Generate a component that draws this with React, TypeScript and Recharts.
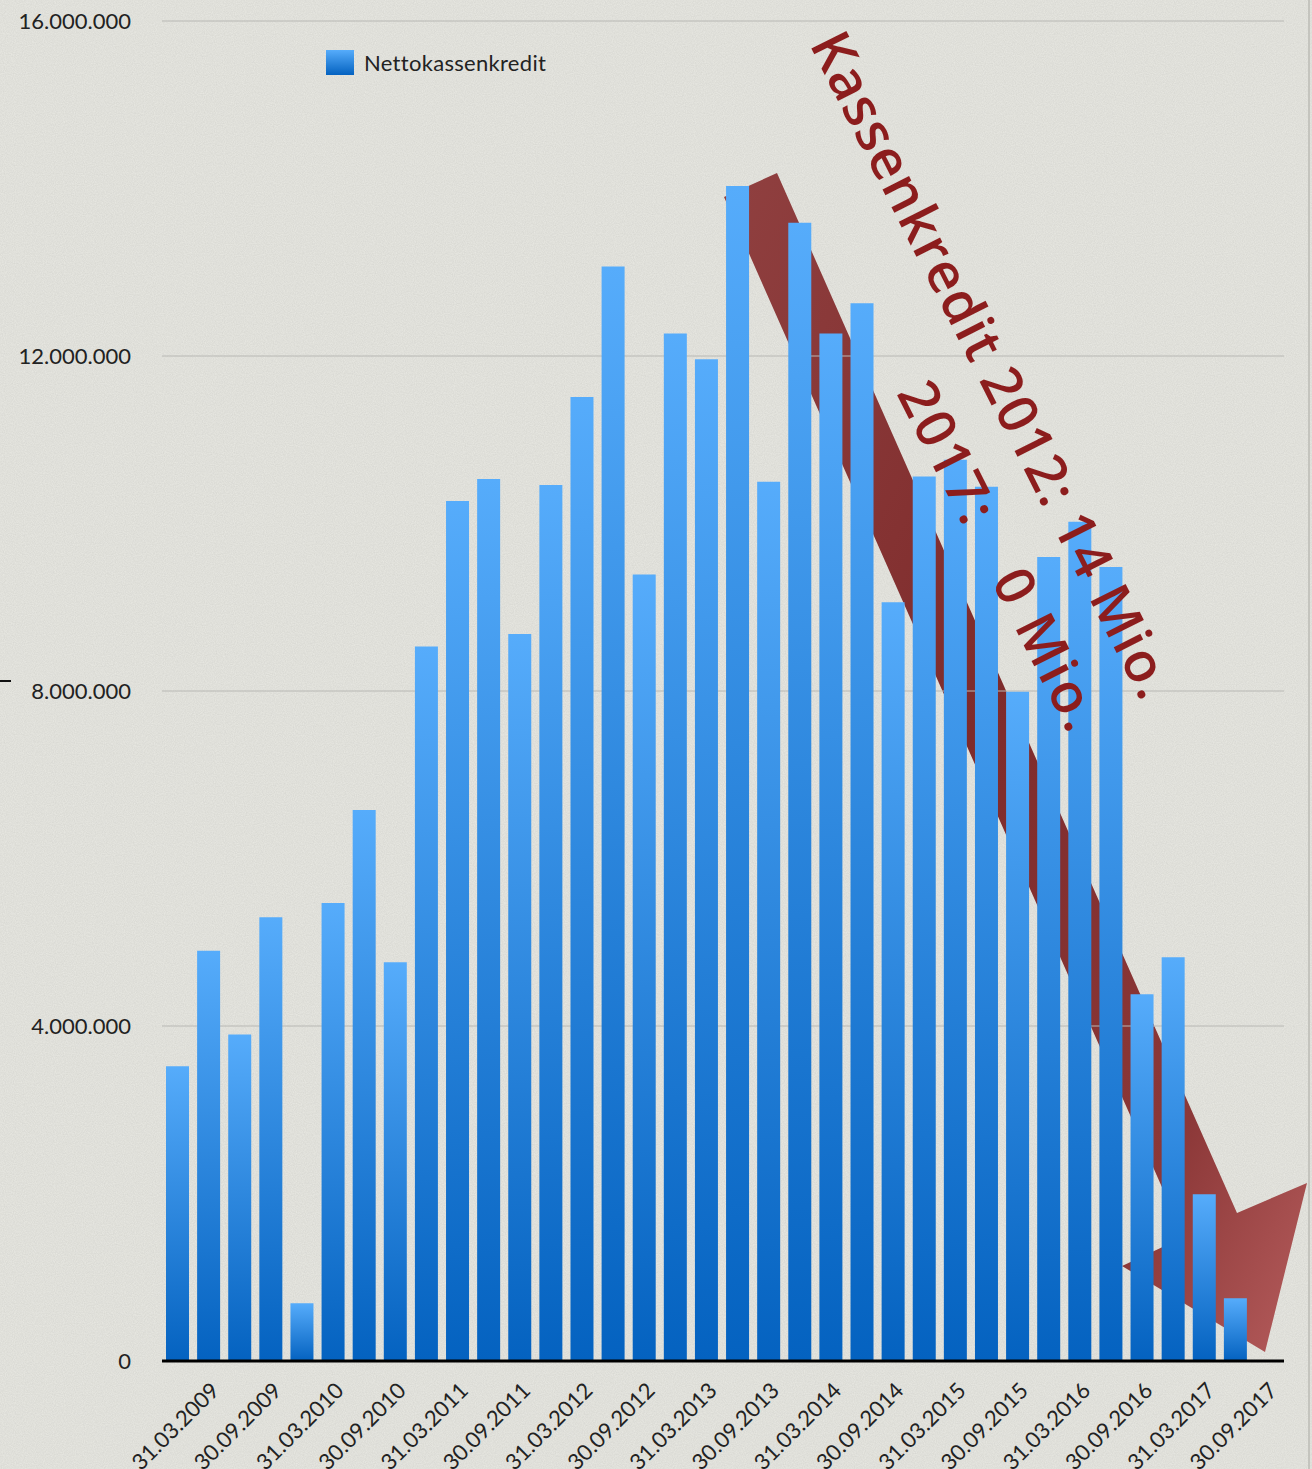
import { BarChart, Bar, XAxis, YAxis, CartesianGrid, Legend } from "recharts";

const dates = [
  "31.03.2009", "30.06.2009", "30.09.2009", "31.12.2009",
  "31.03.2010", "30.06.2010", "30.09.2010", "31.12.2010",
  "31.03.2011", "30.06.2011", "30.09.2011", "31.12.2011",
  "31.03.2012", "30.06.2012", "30.09.2012", "31.12.2012",
  "31.03.2013", "30.06.2013", "30.09.2013", "31.12.2013",
  "31.03.2014", "30.06.2014", "30.09.2014", "31.12.2014",
  "31.03.2015", "30.06.2015", "30.09.2015", "31.12.2015",
  "31.03.2016", "30.06.2016", "30.09.2016", "31.12.2016",
  "31.03.2017", "30.06.2017", "30.09.2017",
];

const nettokassenkredit = [
  3520000, 4900000, 3900000, 5300000,
  690000, 5470000, 6580000, 4760000,
  8530000, 10270000, 10530000, 8680000,
  10460000, 11510000, 13070000, 9390000,
  12270000, 11960000, 14030000, 10500000,
  13590000, 12270000, 12630000, 9060000,
  10560000, 10760000, 10440000, 7990000,
  9600000, 10020000, 9480000, 4380000,
  4820000, 1990000, 750000,
];

const yTicks = [0, 4000000, 8000000, 12000000, 16000000];

const seriesName = "Nettokassenkredit";
const noteLine1 = "Kassenkredit 2012: 14 Mio.";
const noteLine2 = "2017: 0 Mio.";

const data = dates.map((d, i) => ({ date: d, value: nettokassenkredit[i] }));

const FONT = "Lato, 'Noto Sans', sans-serif";
const NOTE_FONT = "'Open Sans', 'Noto Sans', sans-serif";

const fmt = (v: number) => String(v).replace(/\B(?=(\d{3})+(?!\d))/g, ".");

function DateTick({ x, y, payload }: any) {
  const tx = x + 43;
  const ty = y + 29;
  return (
    <text
      x={tx}
      y={ty}
      transform={`rotate(-45, ${tx}, ${ty})`}
      textAnchor="end"
      fill="#222"
      fontSize={22}
      fontFamily={FONT}
    >
      {payload.value}
    </text>
  );
}

function LegendBox() {
  return (
    <div style={{ display: "flex", alignItems: "center", fontFamily: FONT, fontSize: 22, color: "#222" }}>
      <div
        style={{
          width: 28,
          height: 25,
          marginRight: 10,
          background: "linear-gradient(#56acfb, #0462c0)",
        }}
      />
      <span style={{ letterSpacing: 0.3 }}>{seriesName}</span>
    </div>
  );
}

export default function App() {
  const W = 1312;
  const H = 1469;
  const [l2a, l2b] = noteLine2.split(": ");
  return (
    <div style={{ position: "absolute", left: 0, top: 0, width: W, height: H, overflow: "hidden" }}>
      {/* paper background */}
      <svg width={W} height={H} style={{ position: "absolute", left: 0, top: 0 }}>
        <defs>
          <filter id="paper">
            <feTurbulence type="fractalNoise" baseFrequency="0.9" numOctaves={2} seed={3} />
            <feColorMatrix type="matrix" values="0 0 0 0 0  0 0 0 0 0  0 0 0 0 0  0 0 0 0.08 0" />
          </filter>
        </defs>
        <rect width={W} height={H} fill="#e9e9e3" />
        <rect width={W} height={H} filter="url(#paper)" />
        <line x1={1309} y1={0} x2={1309} y2={H} stroke="#c4c4be" strokeWidth={2} />
        <line x1={0} y1={681} x2={11} y2={681} stroke="#111" strokeWidth={2} />
      </svg>

      {/* big red arrow, behind the bars */}
      <svg width={W} height={H} style={{ position: "absolute", left: 0, top: 0 }}>
        <defs>
          <linearGradient id="arrowFill" x1="0" y1="0" x2="1" y2="1">
            <stop offset="0" stopColor="#904040" />
            <stop offset="0.45" stopColor="#7e2b2b" />
            <stop offset="0.8" stopColor="#8c3838" />
            <stop offset="1" stopColor="#b55c5c" />
          </linearGradient>
        </defs>
        <polygon
          points="724,197 777,173 1237,1213 1307,1183 1265,1352 1122,1266 1184,1237"
          fill="url(#arrowFill)"
        />
      </svg>

      <div style={{ position: "absolute", left: 0, top: 0 }}>
        <BarChart
          width={W}
          height={H}
          data={data}
          margin={{ top: 21, right: 28, bottom: 0, left: 0 }}
          barCategoryGap={4}
        >
          <defs>
            <linearGradient id="barFill" x1="0" y1="0" x2="0" y2="1">
              <stop offset="0" stopColor="#56acfb" />
              <stop offset="1" stopColor="#0462c0" />
            </linearGradient>
          </defs>
          <CartesianGrid vertical={false} stroke="#b8b8b4" strokeWidth={1} />
          <XAxis
            dataKey="date"
            interval={1}
            height={108}
            tickSize={0}
            tickLine={false}
            axisLine={{ stroke: "#000", strokeWidth: 3 }}
            padding={{ left: 0, right: 33 }}
            tick={<DateTick />}
          />
          <YAxis
            domain={[0, 16000000]}
            ticks={yTicks}
            width={162}
            tickSize={0}
            tickMargin={31}
            axisLine={false}
            tickLine={false}
            tickFormatter={fmt}
            tick={{ fill: "#222", fontSize: 22, fontFamily: FONT }}
          />
          <Legend
            layout="horizontal"
            align="center"
            verticalAlign="middle"
            wrapperStyle={{ top: 49, left: 326, width: "auto" }}
            content={() => <LegendBox />}
          />
          <Bar dataKey="value" name={seriesName} fill="url(#barFill)" isAnimationActive={false} />
        </BarChart>
      </div>

      {/* annotation text, above the bars */}
      <svg width={W} height={H} style={{ position: "absolute", left: 0, top: 0, pointerEvents: "none" }}>
        <g fontFamily={NOTE_FONT} fontSize={55} fontWeight={600} fill="#8c1d1d">
          <text
            x={809}
            y={44}
            textLength={738}
            lengthAdjust="spacing"
            transform="rotate(63.2, 809, 44)"
          >
            {noteLine1}
          </text>
          <text x={896} y={393} transform="rotate(63.2, 896, 393)" letterSpacing={2.5}>
            {l2a + ":"}
            <tspan dx={40}>{" " + l2b}</tspan>
          </text>
        </g>
      </svg>
    </div>
  );
}
